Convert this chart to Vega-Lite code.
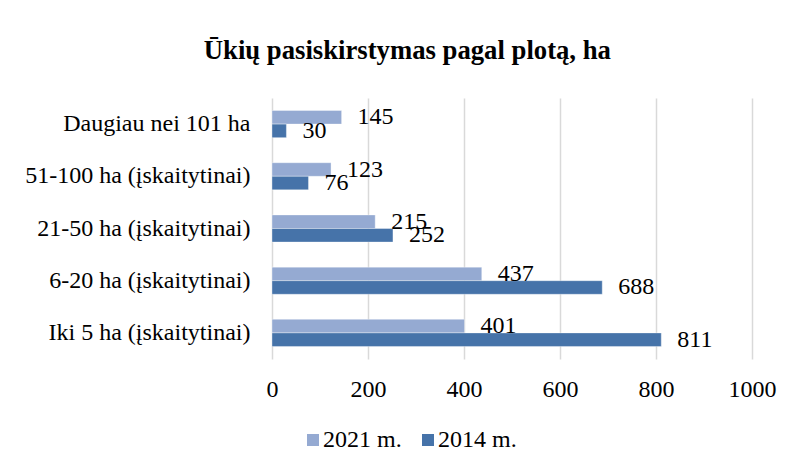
{
  "$schema": "https://vega.github.io/schema/vega-lite/v6.json",
  "width": 480,
  "height": 261,
  "autosize": {"type": "none"},
  "padding": {"left": 272, "top": 98, "right": 40, "bottom": 109},
  "background": "white",
  "title": {
    "text": "Ūkių pasiskirstymas pagal plotą, ha",
    "font": "Times New Roman, Liberation Serif, serif",
    "fontSize": 26.7,
    "fontWeight": "bold",
    "color": "#000000",
    "anchor": "middle",
    "frame": "bounds",
    "dx": 7,
    "offset": 33
  },
  "data": {
    "values": [
      {"kategorija": "Daugiau nei 101 ha", "metai": "2021 m.", "reiksme": 145},
      {"kategorija": "Daugiau nei 101 ha", "metai": "2014 m.", "reiksme": 30},
      {"kategorija": "51-100 ha (įskaitytinai)", "metai": "2021 m.", "reiksme": 123},
      {"kategorija": "51-100 ha (įskaitytinai)", "metai": "2014 m.", "reiksme": 76},
      {"kategorija": "21-50 ha (įskaitytinai)", "metai": "2021 m.", "reiksme": 215},
      {"kategorija": "21-50 ha (įskaitytinai)", "metai": "2014 m.", "reiksme": 252},
      {"kategorija": "6-20 ha (įskaitytinai)", "metai": "2021 m.", "reiksme": 437},
      {"kategorija": "6-20 ha (įskaitytinai)", "metai": "2014 m.", "reiksme": 688},
      {"kategorija": "Iki 5 ha (įskaitytinai)", "metai": "2021 m.", "reiksme": 401},
      {"kategorija": "Iki 5 ha (įskaitytinai)", "metai": "2014 m.", "reiksme": 811}
    ]
  },
  "encoding": {
    "y": {
      "field": "kategorija",
      "type": "nominal",
      "sort": ["Daugiau nei 101 ha", "51-100 ha (įskaitytinai)", "21-50 ha (įskaitytinai)", "6-20 ha (įskaitytinai)", "Iki 5 ha (įskaitytinai)"],
      "scale": {"paddingInner": 0.48, "paddingOuter": 0.24},
      "axis": {
        "title": null,
        "domain": false,
        "ticks": false,
        "labelPadding": 22,
        "labelFont": "Times New Roman, Liberation Serif, serif",
        "labelFontSize": 24,
        "labelColor": "#000000",
        "labelLimit": 400
      }
    },
    "yOffset": {
      "field": "metai",
      "type": "nominal",
      "sort": ["2021 m.", "2014 m."],
      "scale": {"paddingInner": 0, "paddingOuter": 0}
    },
    "x": {
      "field": "reiksme",
      "type": "quantitative",
      "scale": {"domain": [0, 1000], "nice": false},
      "axis": {
        "title": null,
        "values": [0, 200, 400, 600, 800, 1000],
        "format": "d",
        "domain": false,
        "ticks": false,
        "grid": true,
        "gridColor": "#d9d9d9",
        "gridWidth": 1.5,
        "labelPadding": 18,
        "labelFont": "Times New Roman, Liberation Serif, serif",
        "labelFontSize": 24,
        "labelColor": "#000000",
        "labelFlush": false
      }
    }
  },
  "layer": [
    {
      "mark": {"type": "bar", "stroke": "#ffffff", "strokeWidth": 0.6, "strokeOpacity": 0.6},
      "encoding": {
        "color": {
          "field": "metai",
          "type": "nominal",
          "scale": {"domain": ["2021 m.", "2014 m."], "range": ["#95aad2", "#4673a9"]},
          "legend": {
            "title": null,
            "orient": "none",
            "direction": "horizontal",
            "legendX": 29,
            "legendY": 330,
            "symbolType": "square",
            "symbolSize": 144,
            "symbolStrokeWidth": 0,
            "labelFont": "Times New Roman, Liberation Serif, serif",
            "labelFontSize": 24,
            "labelColor": "#000000",
            "labelOffset": -2,
            "columnPadding": 14
          }
        }
      }
    },
    {
      "mark": {
        "type": "text",
        "align": "left",
        "baseline": "middle",
        "dx": 16,
        "font": "Times New Roman, Liberation Serif, serif",
        "fontSize": 24,
        "color": "#000000"
      },
      "encoding": {
        "text": {"field": "reiksme", "type": "quantitative"}
      }
    }
  ],
  "config": {
    "view": {"stroke": null}
  }
}
